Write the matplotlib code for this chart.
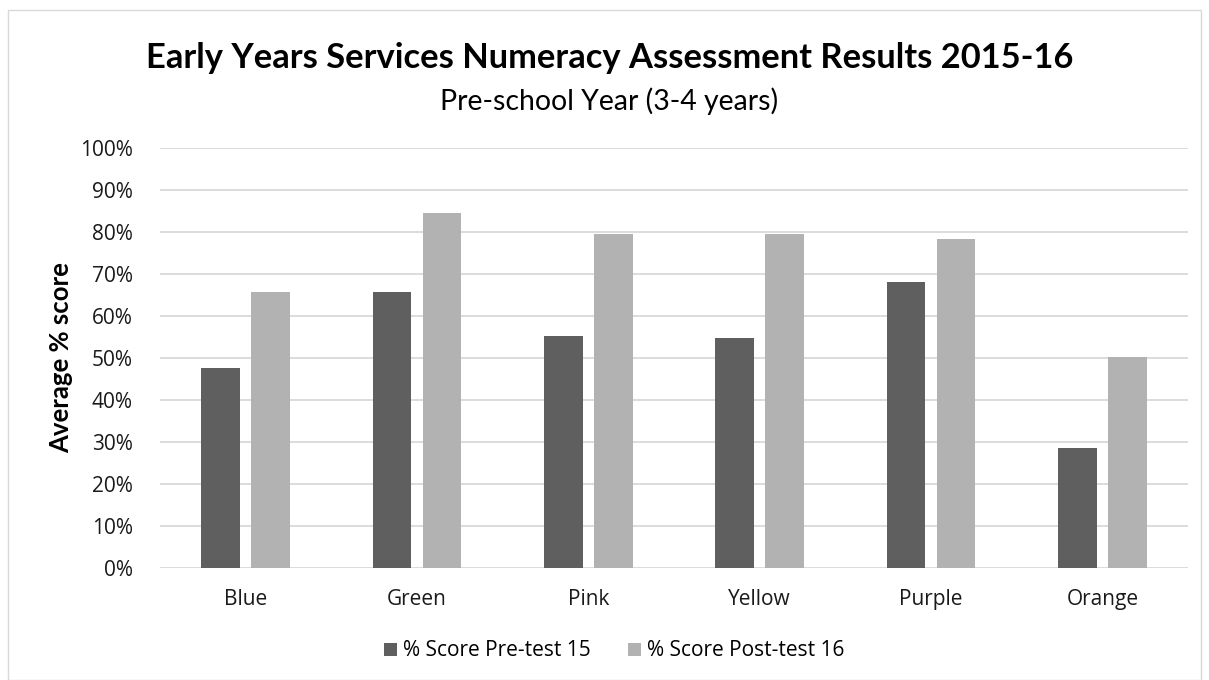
import numpy as np
import matplotlib.pyplot as plt
from matplotlib.patches import Rectangle

plt.rcParams['font.family'] = ['Open Sans', 'DejaVu Sans']

groups = ['Blue', 'Green', 'Pink', 'Yellow', 'Purple', 'Orange']
pre_test = [47.7, 65.8, 55.3, 54.8, 68.0, 28.5]
post_test = [65.8, 84.6, 79.5, 79.5, 78.4, 50.2]
series_names = ['% Score Pre-test 15', '% Score Post-test 16']

fig = plt.figure(figsize=(12.09, 6.8), dpi=100)
ax = fig.add_axes([160 / 1209, 1 - 568 / 680, 1028 / 1209, 420 / 680])

x = np.arange(len(groups))
w = 0.224
ax.bar(x - 0.146, pre_test, w, color='#5f5f5f', label=series_names[0], zorder=3)
ax.bar(x + 0.146, post_test, w, color='#b2b2b2', label=series_names[1], zorder=3)

ax.set_xlim(-0.5, len(groups) - 0.5)
ax.set_ylim(0, 100)
ax.set_yticks(range(0, 101, 10))
ax.set_yticklabels([f'{v}%' for v in range(0, 101, 10)])
ax.set_xticks(x)
ax.set_xticklabels(groups)
ax.grid(axis='y', color='#d9d9d9', linewidth=1.3, zorder=0)
for s in ax.spines.values():
    s.set_visible(False)
ax.tick_params(length=0, labelsize=15, colors='#1a1a1a')
ax.tick_params(axis='y', pad=19.5)
ax.tick_params(axis='x', pad=15)
ax.set_ylabel('Average % score', fontsize=18.5, fontweight='bold', labelpad=5,
              family=['Lato', 'DejaVu Sans'])

fig.text(0.504, 1 - 58 / 680, 'Early Years Services Numeracy Assessment Results 2015-16',
         ha='center', va='center', fontsize=24.8, fontweight='bold',
         family=['Lato', 'DejaVu Sans'])
fig.text(0.504, 1 - 101 / 680, 'Pre-school Year (3-4 years)',
         ha='center', va='center', fontsize=20.4, family=['Lato', 'DejaVu Sans'])

fig.legend(loc='center', bbox_to_anchor=(0.508, 1 - 651 / 680), ncol=2, frameon=False,
           fontsize=15, handlelength=0.6, handleheight=0.6, columnspacing=1.8,
           handletextpad=0.3)

# outer chart frame
fig.patches.append(Rectangle((8 / 1209, 0), 1 - 16 / 1209, 1 - 10 / 680,
                             transform=fig.transFigure, fill=False,
                             edgecolor='#d9d9d9', linewidth=1))

fig.savefig('out.png', dpi=100)
